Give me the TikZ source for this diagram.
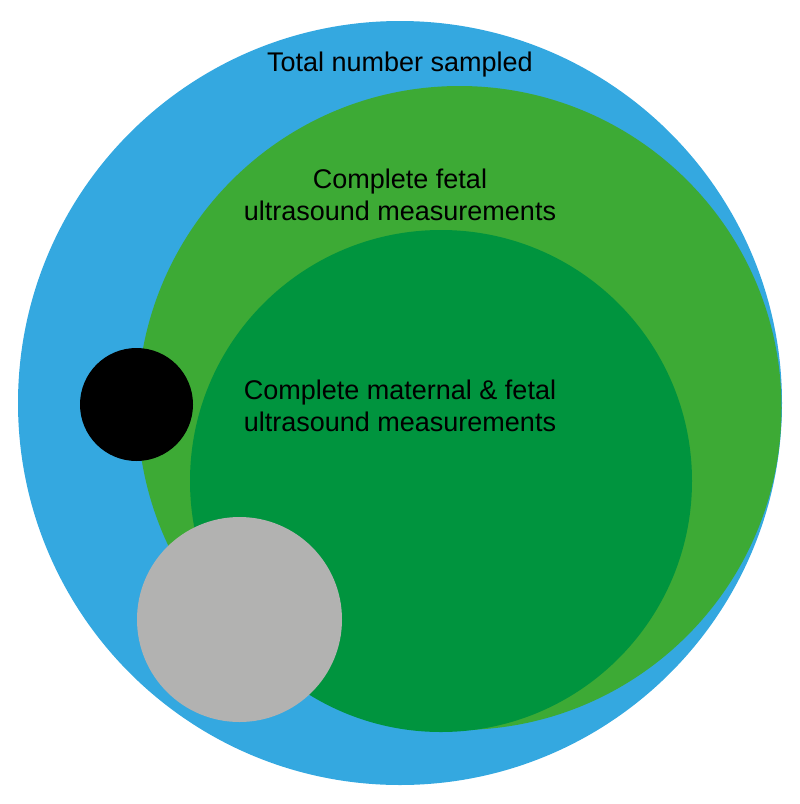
\documentclass[tikz,border=0pt]{standalone}
\usepackage{fontspec}
\setmainfont{Liberation Sans}
\definecolor{cblue}{RGB}{52,168,224}
\definecolor{clgreen}{RGB}{61,170,53}
\definecolor{cdgreen}{RGB}{0,148,62}
\definecolor{cgrey}{RGB}{178,178,177}
\begin{document}
\begin{tikzpicture}[x=1pt,y=-1pt,
  lbl/.style={font=\fontsize{27}{32}\selectfont, align=center, text=black, inner sep=0pt}]
\useasboundingbox (0,0) rectangle (800,804);
\fill[cblue] (400,403) circle (382);
\fill[clgreen] (459.5,408) circle (322);
\fill[cdgreen] (441,481) circle (251);
\fill[black] (136.5,404.5) circle (56.5);
\fill[cgrey] (239.5,619.5) circle (102.5);
\node[lbl] (total) at (400,65) {Total number sampled};
\node[lbl] (fetal) at (400,195) {Complete fetal\\ultrasound measurements};
\node[lbl] (both) at (400,406) {Complete maternal \& fetal\\ultrasound measurements};
\end{tikzpicture}
\end{document}
